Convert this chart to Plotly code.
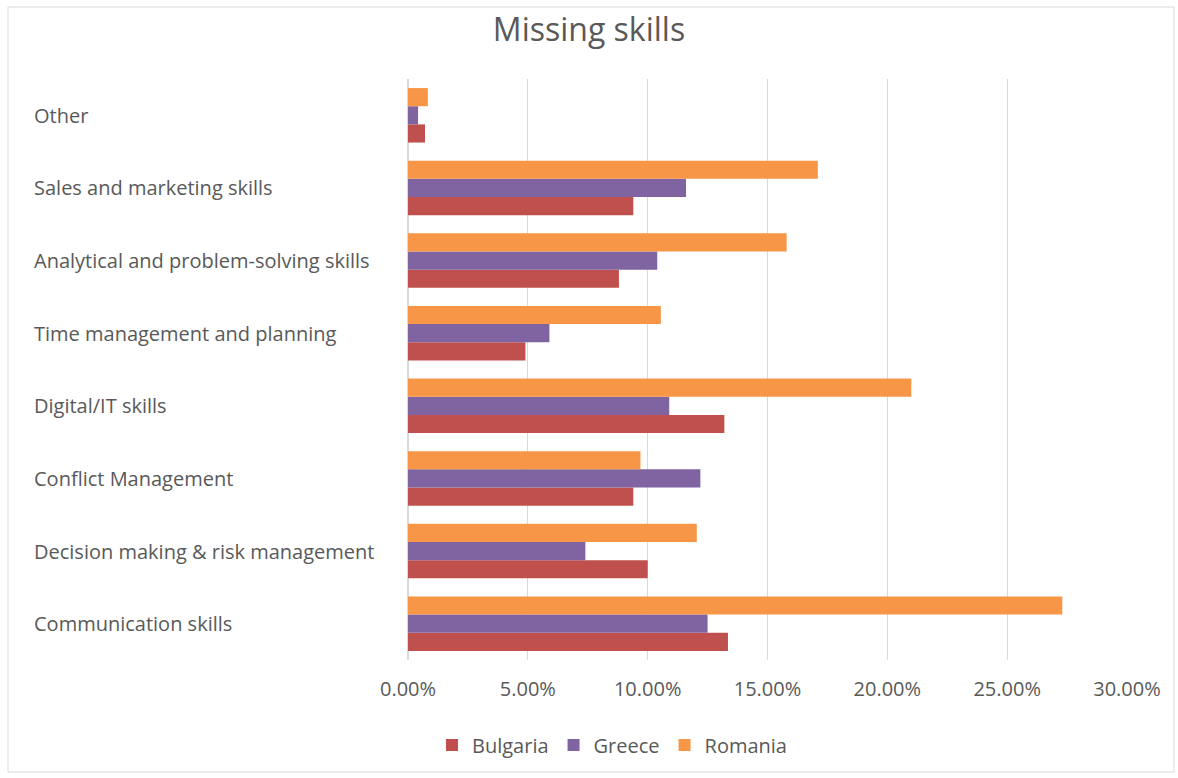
import plotly.graph_objects as go

categories = ["Communication skills", "Decision making & risk management", "Conflict Management",
              "Digital/IT skills", "Time management and planning",
              "Analytical and problem-solving skills", "Sales and marketing skills", "Other"]
bulgaria = [0.1335, 0.100, 0.094, 0.132, 0.049, 0.088, 0.094, 0.0071]
greece = [0.125, 0.074, 0.122, 0.109, 0.059, 0.104, 0.116, 0.0042]
romania = [0.273, 0.1205, 0.097, 0.210, 0.1055, 0.158, 0.171, 0.0083]
series_names = ["Bulgaria", "Greece", "Romania"]
colors = ["#C0504D", "#8064A2", "#F79646"]

W, H = 1178, 778
ml, mr, mt, mb = 408, 51, 79, 118
pw, ph = W - ml - mr, H - mt - mb

fig = go.Figure()
for name, vals, c in zip(series_names, [bulgaria, greece, romania], colors):
    fig.add_trace(go.Bar(y=categories, x=vals, name=name, orientation="h",
                         marker=dict(color=c, line=dict(width=0))))

font = "Open Sans, Lato, sans-serif"
fig.update_layout(
    width=W, height=H,
    margin=dict(l=ml, r=mr, t=mt, b=mb),
    paper_bgcolor="white", plot_bgcolor="white",
    barmode="group", bargap=0.25, bargroupgap=0,
    title=dict(text="Missing skills", x=0.5, xanchor="center", y=1 - 30 / H, yanchor="middle",
               font=dict(family=font, size=32, color="#595959")),
    xaxis=dict(range=[0, 0.30], dtick=0.05, tickformat=".2%", showgrid=True,
               gridcolor="#D9D9D9", gridwidth=1, zeroline=True, zerolinecolor="#D9D9D9",
               tickfont=dict(family=font, size=20, color="#595959"), ticks="", ticklabelstandoff=15),
    yaxis=dict(showticklabels=False, showgrid=False, categoryorder="array", categoryarray=categories),
    legend=dict(orientation="h", x=612 / W, xanchor="center",
                xref="container", y=(H - 745) / H, yref="container", yanchor="middle",
                font=dict(family=font, size=20, color="#595959"), traceorder="normal",
                itemwidth=30),
    showlegend=True,
)

for cat in categories:
    fig.add_annotation(x=(32 - ml) / pw, xref="paper", y=cat, yref="y", text=cat,
                       showarrow=False, xanchor="left", yanchor="middle",
                       font=dict(family=font, size=20, color="#595959"))

fig.add_shape(type="rect", xref="paper", yref="paper",
              x0=(8 - ml) / pw, x1=(1174 - ml) / pw,
              y0=(H - mb - 772) / ph, y1=(H - mb - 7) / ph,
              line=dict(color="#D9D9D9", width=1), fillcolor="rgba(0,0,0,0)", layer="below")

fig.write_html("out.html")
